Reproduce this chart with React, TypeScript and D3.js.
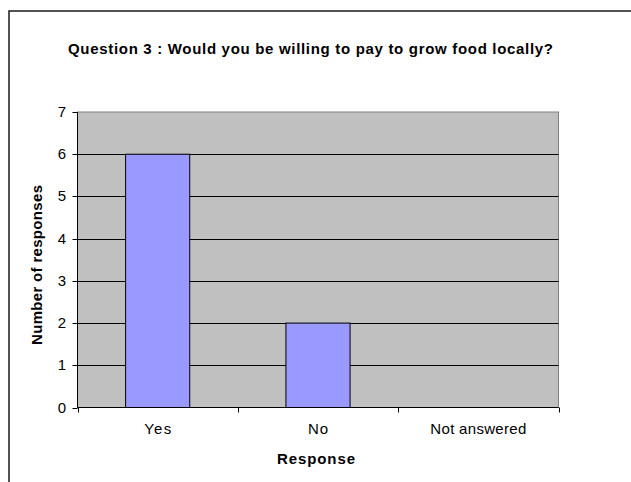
import React from "react";
import * as d3 from "d3";

const categories = ["Yes", "No", "Not answered"];
const values = [6, 2, 0];
const yTicks = [0, 1, 2, 3, 4, 5, 6, 7];
const title = "Question 3 : Would you be willing to pay to grow food locally?";
const xTitle = "Response";
const yTitle = "Number of responses";

export default function App() {
  const W = 631, H = 482;
  const left = 77.5, right = 558.5, top = 112, bottom = 407.5;
  const x = d3.scaleBand<string>().domain(categories).range([left, right]).paddingInner(0).paddingOuter(0);
  const y = d3.scaleLinear().domain([0, 7]).range([bottom, top]);
  const bw = x.bandwidth() / 2.5;
  const font = "'Liberation Sans', Arial, sans-serif";
  const boundaries = categories.map((c) => x(c)!).concat([right]);
  const catLen: Record<string, number> = { Yes: 27, No: 20, "Not answered": 96 };
  return (
    <svg width={W} height={H} style={{ position: "absolute", left: 0, top: 0, background: "#fff" }} fontFamily={font}>
      <rect x={9} y={11} width={700} height={600} fill="#fff" stroke="#1a1a1a" strokeWidth={1.5} />
      <text x={310.5} y={54} textAnchor="middle" fontSize={15} fontWeight="bold" fill="#000" textLength={485} lengthAdjust="spacing">{title}</text>
      <rect x={left} y={top} width={right - left} height={bottom - top} fill="#C0C0C0" stroke="#808080" strokeWidth={1} />
      {yTicks.filter((t) => t > 0 && t < 7).map((t) => (
        <line key={t} x1={left} x2={right} y1={Math.round(y(t)) + 0.5} y2={Math.round(y(t)) + 0.5} stroke="#000" strokeWidth={1} />
      ))}
      {categories.map((c, i) => {
        const cx = x(c)! + x.bandwidth() / 2;
        return values[i] > 0 ? (
          <rect key={c} x={cx - bw / 2} y={y(values[i])} width={bw} height={y(0) - y(values[i])} fill="#9999FF" stroke="#000" strokeWidth={1} />
        ) : null;
      })}
      {/* y axis */}
      <line x1={left} x2={left} y1={top} y2={bottom} stroke="#000" strokeWidth={1} />
      {yTicks.map((t) => (
        <g key={t}>
          <line x1={left - 5} x2={left} y1={Math.round(y(t)) + 0.5} y2={Math.round(y(t)) + 0.5} stroke="#000" />
          <text x={66} y={y(t) + 5} textAnchor="end" fontSize={15} fill="#000">{t}</text>
        </g>
      ))}
      {/* x axis */}
      <line x1={left} x2={right} y1={bottom} y2={bottom} stroke="#000" strokeWidth={1} />
      {boundaries.map((b, i) => (
        <line key={i} x1={Math.round(b) + 0.5} x2={Math.round(b) + 0.5} y1={bottom} y2={bottom + 5} stroke="#000" />
      ))}
      {categories.map((c) => (
        <text key={c} x={x(c)! + x.bandwidth() / 2} y={434} textAnchor="middle" fontSize={15} fill="#000" textLength={catLen[c]} lengthAdjust="spacing">{c}</text>
      ))}
      <text x={316} y={464} textAnchor="middle" fontSize={15} fontWeight="bold" fill="#000" textLength={78} lengthAdjust="spacing">{xTitle}</text>
      <text transform={`translate(42, 265) rotate(-90)`} textAnchor="middle" fontSize={15} fontWeight="bold" fill="#000" textLength={160} lengthAdjust="spacing">{yTitle}</text>
    </svg>
  );
}
